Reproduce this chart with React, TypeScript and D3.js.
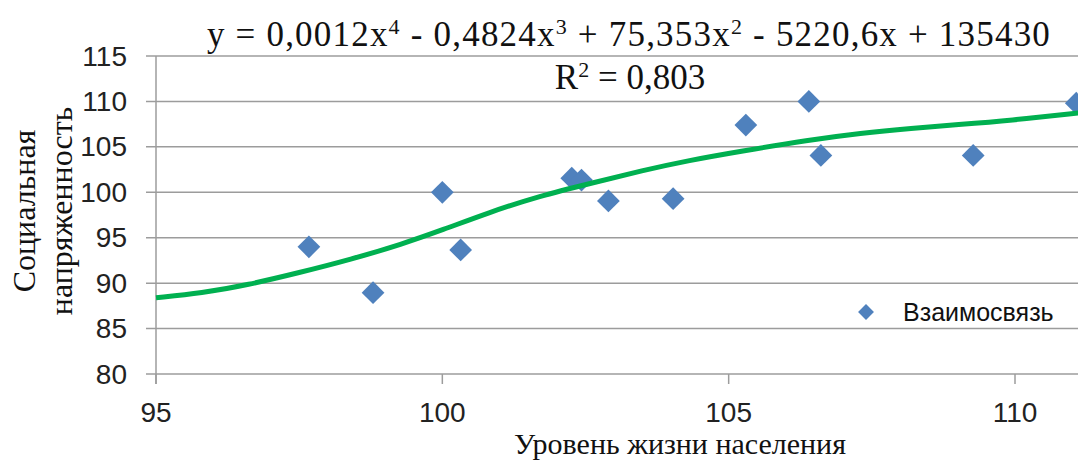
import React from "react";
import * as d3 from "d3";

const xValues = [97.67, 98.79, 100.0, 100.32, 102.26, 102.43, 102.9, 104.03, 105.3, 106.4, 106.61, 109.27, 111.07];
const yValues = [94.0, 88.95, 100.0, 93.65, 101.55, 101.35, 99.05, 99.3, 107.4, 110.0, 104.05, 104.05, 109.8];
const trendX = [95, 95.8, 96.6, 97.5, 98.4, 99.3, 100, 100.8, 101.7, 102.6, 103.5, 104.3, 105.2, 106.4, 107.3, 108.2, 109, 109.9, 111.15];
const trendY = [88.4, 88.9, 89.8, 91.15, 92.6, 94.3, 95.85, 97.75, 99.6, 101.0, 102.4, 103.5, 104.5, 105.75, 106.5, 107.05, 107.45, 107.9, 108.75];
const xTicks = [95, 100, 105, 110];
const yTicks = [80, 85, 90, 95, 100, 105, 110, 115];
const seriesName = "Взаимосвязь";
const yTitleLines = ["Социальная", "напряженность"];
const xTitle = "Уровень жизни населения";
const rSquared = "0,803";

export default function App() {
  const W = 1078;
  const H = 461;
  const x = d3.scaleLinear().domain([95, 110]).range([156, 1015]);
  const y = d3.scaleLinear().domain([80, 115]).range([374, 56]);
  const plotRight = W;

  const curvePts = trendX.map((v, i) => [v, trendY[i]] as [number, number]);
  const line = d3
    .line<[number, number]>()
    .x((d) => x(d[0]))
    .y((d) => y(d[1]))
    .curve(d3.curveBasis);

  const diamond = d3.symbol().type(d3.symbolDiamond2).size(330)();
  const diamondSmall = d3.symbol().type(d3.symbolDiamond2).size(160)();

  const gridColor = "#9c9c9c";
  const sans = "'Liberation Sans', Arial, sans-serif";
  const serif = "'Liberation Serif', 'Times New Roman', serif";
  const markerColor = "#4f81bd";

  return (
    <svg
      width={W}
      height={H}
      style={{ position: "absolute", left: 0, top: 0, background: "#fff" }}
    >
      <rect x={0} y={0} width={W} height={H} fill="#fff" />
      {yTicks.map((t) => (
        <g key={"gy" + t}>
          <line x1={146} x2={plotRight} y1={y(t)} y2={y(t)} stroke={gridColor} strokeWidth={1.5} />
          <text
            x={127}
            y={y(t)}
            textAnchor="end"
            dominantBaseline="central"
            fontFamily={sans}
            fontSize={28}
            fill="#222"
          >
            {t}
          </text>
        </g>
      ))}
      <line x1={x(95)} x2={x(95)} y1={y(115)} y2={384} stroke={gridColor} strokeWidth={1.5} />
      {xTicks.map((t) => (
        <g key={"gx" + t}>
          <line x1={x(t)} x2={x(t)} y1={y(80)} y2={384} stroke={gridColor} strokeWidth={1.5} />
          <text
            x={x(t)}
            y={412}
            textAnchor="middle"
            dominantBaseline="central"
            fontFamily={sans}
            fontSize={28}
            fill="#222"
          >
            {t}
          </text>
        </g>
      ))}

      {xValues.map((v, i) => (
        <path
          key={"p" + i}
          d={diamond as string}
          transform={`translate(${x(v)},${y(yValues[i])})`}
          fill={markerColor}
        />
      ))}

      <path d={line(curvePts) as string} fill="none" stroke="#00b050" strokeWidth={5} />

      <text
        x={629}
        y={46}
        textAnchor="middle"
        fontFamily={serif}
        fontSize={35}
        letterSpacing={1.2}
        fill="#111"
      >
        y = 0,0012x<tspan dy={-12} fontSize={22}>4</tspan>
        <tspan dy={12}> - 0,4824x</tspan>
        <tspan dy={-12} fontSize={22}>3</tspan>
        <tspan dy={12}> + 75,353x</tspan>
        <tspan dy={-12} fontSize={22}>2</tspan>
        <tspan dy={12}> - 5220,6x + 135430</tspan>
      </text>
      <text x={630} y={89} textAnchor="middle" fontFamily={serif} fontSize={35} fill="#111">
        R<tspan dy={-12} fontSize={22}>2</tspan>
        <tspan dy={12}> = {rSquared}</tspan>
      </text>

      <path d={diamondSmall as string} transform="translate(866,312)" fill={markerColor} />
      <text x={903} y={312} dominantBaseline="central" fontFamily={sans} fontSize={25} fill="#111">
        {seriesName}
      </text>

      <g transform="translate(35,211) rotate(-90)">
        <text x={0} y={0} textAnchor="middle" fontFamily={serif} fontSize={32} fill="#111">
          {yTitleLines[0]}
        </text>
        <text x={0} y={37} textAnchor="middle" fontFamily={serif} fontSize={32} fill="#111">
          {yTitleLines[1]}
        </text>
      </g>
      <text x={680} y={454} textAnchor="middle" fontFamily={serif} fontSize={30} fill="#111">
        {xTitle}
      </text>
    </svg>
  );
}
